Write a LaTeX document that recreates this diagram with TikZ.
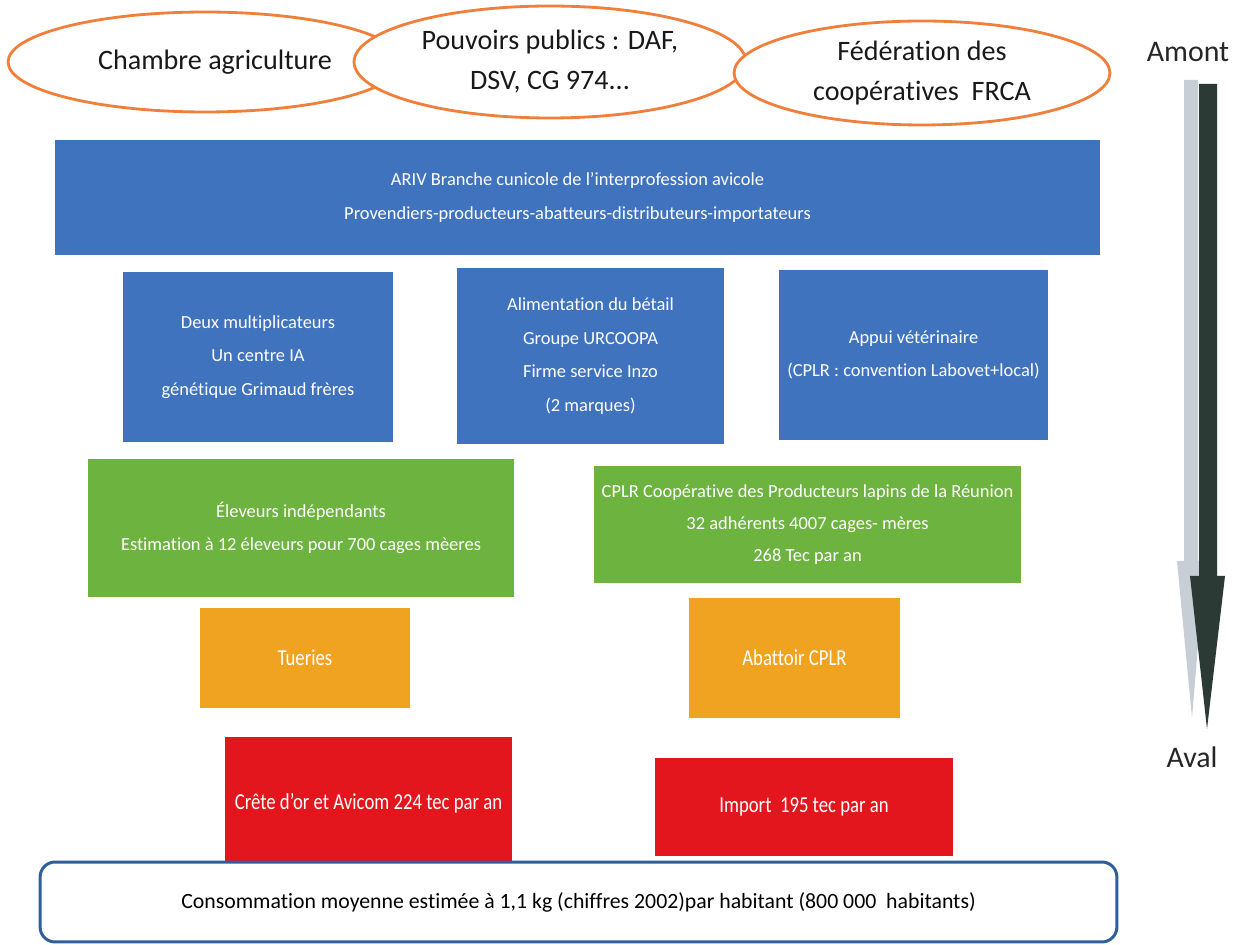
\documentclass[tikz,border=0pt]{standalone}
\usepackage{fontspec}
\setmainfont{Carlito}[Ligatures=NoCommon]
\newfontfamily\condfont{Carlito}[FakeStretch=0.82,Ligatures=NoCommon]
\usetikzlibrary{shapes.geometric}
\definecolor{boxblue}{HTML}{3F73BD}
\definecolor{boxgreen}{HTML}{6DB33F}
\definecolor{boxorange}{HTML}{F0A321}
\definecolor{boxred}{HTML}{E3151D}
\definecolor{ellorange}{HTML}{F07F3C}
\definecolor{bordblue}{HTML}{2F5E9C}
\definecolor{arrdark}{HTML}{2B3A35}
\definecolor{arrlight}{HTML}{C8CED6}
\tikzset{
  ell/.style={ellipse, draw=ellorange, line width=1.6pt, fill=white, align=center, inner sep=0pt,
    font=\fontsize{16}{22.8}\selectfont, text=black!90},
  fbox/.style={rectangle, inner sep=0pt, align=center, text=white,
    font=\fontsize{10.5}{19.2}\selectfont},
  bluebox/.style={fbox, fill=boxblue},
  greenbox/.style={fbox, fill=boxgreen},
  orangebox/.style={fbox, fill=boxorange, font=\condfont\fontsize{13}{19}\selectfont},
  redbox/.style={fbox, fill=boxred, font=\condfont\fontsize{13}{19}\selectfont},
  endbox/.style={rectangle, rounded corners=0.3cm, draw=bordblue, line width=1.7pt, fill=white,
    inner sep=0pt, align=center, font=\fontsize{12.4}{14}\selectfont, text=black},
  sidelabel/.style={inner sep=0pt, font=\fontsize{17}{20}\selectfont, text=black!85}
}
\begin{document}
\begin{tikzpicture}[x=0.02cm, y=-0.02cm]
\useasboundingbox (0,0) rectangle (1235,945);
% ellipses
\node[ell, minimum width=7.88cm, minimum height=2.0cm] (cha) at (205,62) {\hspace*{0.4cm}Chambre agriculture};
\node[ell, minimum width=7.84cm, minimum height=2.24cm] (pp) at (550,62) {Pouvoirs publics : DAF,\\DSV, CG 974...};
\node[ell, minimum width=7.52cm, minimum height=2.08cm] (fed) at (922,73) {Fédération des\\coopératives\ \ FRCA};
% side arrows
\node[sidelabel] (amont) at (1188,52) {Amont};
\node[sidelabel] (aval) at (1192,757) {Aval};
\fill[arrlight] (1184,80) -- (1198,80) -- (1198,561) -- (1205,561) -- (1192,718) -- (1177,561) -- (1184,561) -- cycle;
\fill[arrdark] (1199,84) -- (1217,84) -- (1217,576) -- (1225,576) -- (1207,729) -- (1190,576) -- (1199,576) -- cycle;
% blue boxes
\node[bluebox, minimum width=20.9cm, minimum height=2.3cm] (ariv) at (577.5,197.5)
  {ARIV Branche cunicole de l’interprofession avicole\\Provendiers-producteurs-abatteurs-distributeurs-importateurs};
\node[bluebox, minimum width=5.4cm, minimum height=3.4cm] (mult) at (258,357)
  {Deux multiplicateurs\\Un centre IA\\génétique Grimaud frères};
\node[bluebox, minimum width=5.34cm, minimum height=3.52cm] (alim) at (590.5,356)
  {Alimentation du bétail\\Groupe URCOOPA\\Firme service Inzo\\(2 marques)};
\node[bluebox, minimum width=5.38cm, minimum height=3.4cm] (vet) at (913.5,355)
  {Appui vétérinaire\\(CPLR : convention Labovet+local)};
% green boxes
\node[greenbox, minimum width=8.52cm, minimum height=2.76cm] (elev) at (301,528)
  {Éleveurs indépendants\\Estimation à 12 éleveurs pour 700 cages mèeres};
\node[greenbox, minimum width=8.54cm, minimum height=2.34cm, font=\fontsize{10.5}{18}\selectfont] (cplr) at (807.5,524.5)
  {CPLR Coopérative des Producteurs lapins de la Réunion\\32 adhérents 4007 cages- mères\\268 Tec par an};
% orange boxes
\node[orangebox, minimum width=4.2cm, minimum height=2.0cm] (tue) at (305,658) {Tueries};
\node[orangebox, minimum width=4.22cm, minimum height=2.4cm] (aba) at (794.5,658) {Abattoir CPLR};
% red boxes
\node[redbox, minimum width=5.74cm, minimum height=2.66cm] (cre) at (368.5,803.5) {Crête d’or et Avicom 224 tec par an};
\node[redbox, minimum width=5.96cm, minimum height=1.96cm] (imp) at (804,807) {Import\ \ 195 tec par an};
% bottom
\node[endbox, minimum width=21.54cm, minimum height=1.6cm] (conso) at (578.5,902)
  {Consommation moyenne estimée à 1,1 kg (chiffres 2002)par habitant (800 000\ \ habitants)};
\end{tikzpicture}
\end{document}
